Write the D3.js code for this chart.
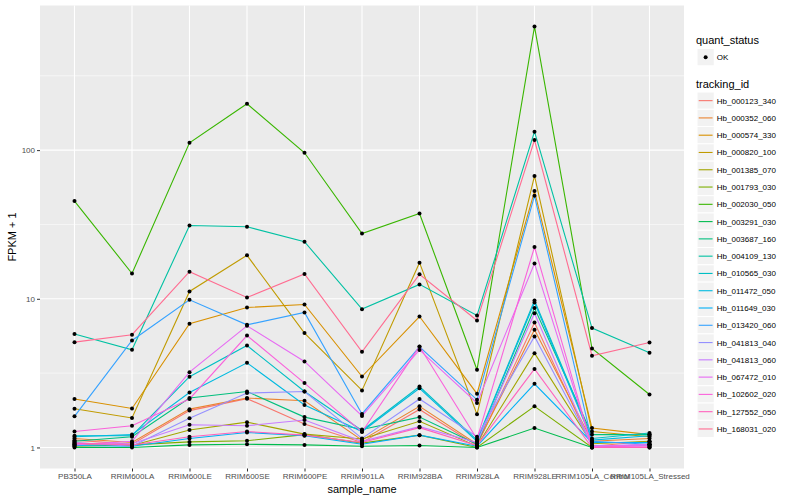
<!DOCTYPE html>
<html>
<head>
<meta charset="utf-8">
<script src="https://cdn.jsdelivr.net/npm/d3@7"></script>
<style>
  body { margin: 0; background: #fff; }
  text { font-family: "Liberation Sans", Arial, sans-serif; }
</style>
</head>
<body>
<div class="svg-container"></div>
<script>
(function() {
  'use strict';

  var samples = ['PB350LA', 'RRIM600LA', 'RRIM600LE', 'RRIM600SE', 'RRIM600PE', 'RRIM901LA',
    'RRIM928BA', 'RRIM928LA', 'RRIM928LE', 'RRIM105LA_Control', 'RRIM105LA_Stressed'];

  var trackingIds = ['Hb_000123_340', 'Hb_000352_060', 'Hb_000574_330', 'Hb_000820_100',
    'Hb_001385_070', 'Hb_001793_030', 'Hb_002030_050', 'Hb_003291_030', 'Hb_003687_160',
    'Hb_004109_130', 'Hb_010565_030', 'Hb_011472_050', 'Hb_011649_030', 'Hb_013420_060',
    'Hb_041813_040', 'Hb_041813_060', 'Hb_067472_010', 'Hb_102602_020', 'Hb_127552_050',
    'Hb_168031_020'];

  // FPKM + 1, one row per tracking_id, one column per sample
  var fpkm = [
    [1.12, 1.05, 1.77, 2.13, 1.44, 1.08, 1.80, 1.03, 6.92, 1.02, 1.10],
    [1.15, 1.08, 1.81, 2.15, 2.06, 1.12, 1.89, 1.05, 6.19, 1.10, 1.15],
    [2.12, 1.83, 6.79, 8.74, 9.15, 3.00, 7.60, 2.30, 53.0, 1.35, 1.22],
    [1.82, 1.58, 11.2, 19.6, 5.88, 2.42, 17.5, 1.67, 67.0, 1.28, 1.18],
    [1.05, 1.03, 1.31, 1.48, 1.23, 1.14, 1.50, 1.02, 4.31, 1.06, 1.10],
    [1.02, 1.04, 1.09, 1.11, 1.22, 1.07, 1.21, 1.00, 1.89, 1.00, 1.05],
    [45.4, 14.8, 112, 205, 96.0, 27.5, 37.5, 3.33, 678, 4.63, 2.27],
    [1.00, 1.00, 1.04, 1.05, 1.04, 1.02, 1.03, 1.00, 1.35, 1.00, 1.00],
    [1.10, 1.18, 2.15, 2.38, 1.60, 1.32, 1.60, 1.05, 8.67, 1.22, 1.22],
    [5.79, 4.54, 31.1, 30.5, 24.2, 8.52, 12.5, 7.72, 133, 6.35, 4.33],
    [1.20, 1.20, 2.99, 4.85, 2.38, 1.30, 2.57, 1.12, 9.74, 1.15, 1.25],
    [1.18, 1.22, 2.34, 3.71, 1.93, 1.28, 2.50, 1.10, 9.45, 1.12, 1.20],
    [1.03, 1.02, 1.15, 1.26, 1.20, 1.05, 1.21, 1.02, 2.68, 1.08, 1.08],
    [1.62, 5.24, 9.85, 6.68, 8.09, 1.68, 4.75, 2.09, 49.3, 1.10, 1.05],
    [1.08, 1.02, 1.57, 2.32, 2.38, 1.15, 2.12, 1.18, 5.58, 1.03, 1.03],
    [1.06, 1.06, 1.42, 1.40, 1.53, 1.10, 1.38, 1.08, 8.00, 1.02, 1.05],
    [1.04, 1.10, 3.21, 6.58, 3.79, 1.63, 4.53, 1.99, 17.3, 1.02, 1.04],
    [1.28, 1.40, 2.12, 5.66, 2.71, 1.27, 4.77, 1.14, 22.3, 1.01, 1.02],
    [1.07, 1.04, 1.18, 1.28, 1.21, 1.08, 1.36, 1.03, 3.37, 1.00, 1.00],
    [5.11, 5.73, 15.2, 10.2, 14.7, 4.40, 14.6, 7.14, 117, 4.14, 5.08]
  ];

  var yBreaks = [1, 10, 100];
  var yMinor = [Math.pow(10, 0.5), Math.pow(10, 1.5), Math.pow(10, 2.5)];
  var quantStatus = ['OK'];

  var palette = ['#F8766D', '#EA8331', '#D89000', '#C09B00', '#A3A500', '#7CAE00', '#39B600',
    '#00BB4E', '#00BF7D', '#00C1A3', '#00BFC4', '#00BAE0', '#00B0F6', '#35A2FF', '#9590FF',
    '#C77CFF', '#E76BF3', '#FA62DB', '#FF62BC', '#FF6C91'];

  var width = 800;
  var height = 500;
  var panel = {left: 40, right: 684, top: 5.5, bottom: 468.5};

  var svg = d3.select('.svg-container')
    .append('svg')
    .attr('width', width)
    .attr('height', height);

  var series = trackingIds.map(function(id, i) {
    return {id: id, color: palette[i], values: samples.map(function(s, j) {
      return {sample: s, value: fpkm[i][j]};
    })};
  });

  // ggplot style 5% expansion on the log range
  var all = d3.merge(fpkm);
  var lo = Math.log10(d3.min(all));
  var hi = Math.log10(d3.max(all));
  var pad = (hi - lo) * 0.05;

  var y = d3.scaleLog()
    .domain([Math.pow(10, lo - pad), Math.pow(10, hi + pad)])
    .range([panel.bottom, panel.top]);

  var x = d3.scalePoint()
    .domain(samples)
    .range([panel.left, panel.right])
    .padding(0.6);

  svg.append('rect')
    .attr('x', panel.left)
    .attr('y', panel.top)
    .attr('width', panel.right - panel.left)
    .attr('height', panel.bottom - panel.top)
    .style('fill', '#EBEBEB');

  var grid = svg.append('g').attr('class', 'grid');

  grid.selectAll('.minor')
    .data(yMinor)
    .enter().append('line')
    .attr('x1', panel.left)
    .attr('x2', panel.right)
    .attr('y1', function(d) { return y(d); })
    .attr('y2', function(d) { return y(d); })
    .style('stroke', '#fff')
    .style('stroke-width', '0.55px');

  grid.selectAll('.major-y')
    .data(yBreaks)
    .enter().append('line')
    .attr('x1', panel.left)
    .attr('x2', panel.right)
    .attr('y1', function(d) { return y(d); })
    .attr('y2', function(d) { return y(d); })
    .style('stroke', '#fff')
    .style('stroke-width', '1.1px');

  grid.selectAll('.major-x')
    .data(samples)
    .enter().append('line')
    .attr('x1', function(d) { return x(d); })
    .attr('x2', function(d) { return x(d); })
    .attr('y1', panel.top)
    .attr('y2', panel.bottom)
    .style('stroke', '#fff')
    .style('stroke-width', '1.1px');

  var line = d3.line()
    .x(function(d) { return x(d.sample); })
    .y(function(d) { return y(d.value); });

  svg.append('g')
    .selectAll('path')
    .data(series)
    .enter().append('path')
    .attr('d', function(d) { return line(d.values); })
    .style('fill', 'none')
    .style('stroke', function(d) { return d.color; })
    .style('stroke-width', '1.1px');

  svg.append('g')
    .selectAll('g')
    .data(series)
    .enter().append('g')
    .selectAll('circle')
    .data(function(d) { return d.values; })
    .enter().append('circle')
    .attr('cx', function(d) { return x(d.sample); })
    .attr('cy', function(d) { return y(d.value); })
    .attr('r', 2)
    .style('fill', '#000');

  // axes
  var yAxis = svg.append('g')
    .attr('transform', 'translate(' + panel.left + ',0)')
    .call(d3.axisLeft(y).tickValues(yBreaks).tickFormat(d3.format('d')).tickSize(3).tickPadding(2));

  var xAxis = svg.append('g')
    .attr('transform', 'translate(0,' + panel.bottom + ')')
    .call(d3.axisBottom(x).tickSize(3).tickPadding(2));

  [xAxis, yAxis].forEach(function(ax) {
    ax.select('.domain').remove();
    ax.selectAll('line').style('stroke', '#333').style('stroke-width', '1px');
    ax.selectAll('text')
      .style('fill', '#4D4D4D')
      .style('font-size', '8px');
  });

  svg.append('text')
    .attr('x', (panel.left + panel.right) / 2)
    .attr('y', 493)
    .attr('text-anchor', 'middle')
    .style('font-size', '11px')
    .text('sample_name');

  svg.append('text')
    .attr('transform', 'translate(16,' + (panel.top + panel.bottom) / 2 + ') rotate(-90)')
    .attr('text-anchor', 'middle')
    .style('font-size', '11px')
    .text('FPKM + 1');

  // legends
  var keySize = 17.28;
  var legendX = 697;

  svg.append('text')
    .attr('x', legendX - 1)
    .attr('y', 44)
    .style('font-size', '11px')
    .text('quant_status');

  var ok = svg.append('g')
    .selectAll('g')
    .data(quantStatus)
    .enter().append('g')
    .attr('transform', function(d, i) { return 'translate(' + legendX + ',' + (48.5 + i * keySize) + ')'; });

  ok.append('rect')
    .attr('width', keySize)
    .attr('height', keySize)
    .style('fill', '#F2F2F2')
    .style('stroke', '#fff')
    .style('stroke-width', '1px');

  ok.append('circle')
    .attr('cx', keySize / 2)
    .attr('cy', keySize / 2)
    .attr('r', 2)
    .style('fill', '#000');

  ok.append('text')
    .attr('x', keySize + 2.5)
    .attr('y', keySize / 2 + 3)
    .style('font-size', '8px')
    .text(function(d) { return d; });

  svg.append('text')
    .attr('x', legendX - 1)
    .attr('y', 88)
    .style('font-size', '11px')
    .text('tracking_id');

  var keys = svg.append('g')
    .selectAll('g')
    .data(series)
    .enter().append('g')
    .attr('transform', function(d, i) { return 'translate(' + legendX + ',' + (92 + i * keySize) + ')'; });

  keys.append('rect')
    .attr('width', keySize)
    .attr('height', keySize)
    .style('fill', '#F2F2F2')
    .style('stroke', '#fff')
    .style('stroke-width', '1px');

  keys.append('line')
    .attr('x1', 1.7)
    .attr('x2', keySize - 1.7)
    .attr('y1', keySize / 2)
    .attr('y2', keySize / 2)
    .style('stroke', function(d) { return d.color; })
    .style('stroke-width', '1.1px');

  keys.append('text')
    .attr('x', keySize + 2.5)
    .attr('y', keySize / 2 + 3)
    .style('font-size', '8px')
    .text(function(d) { return d.id; });
})();
</script>
</body>
</html>
